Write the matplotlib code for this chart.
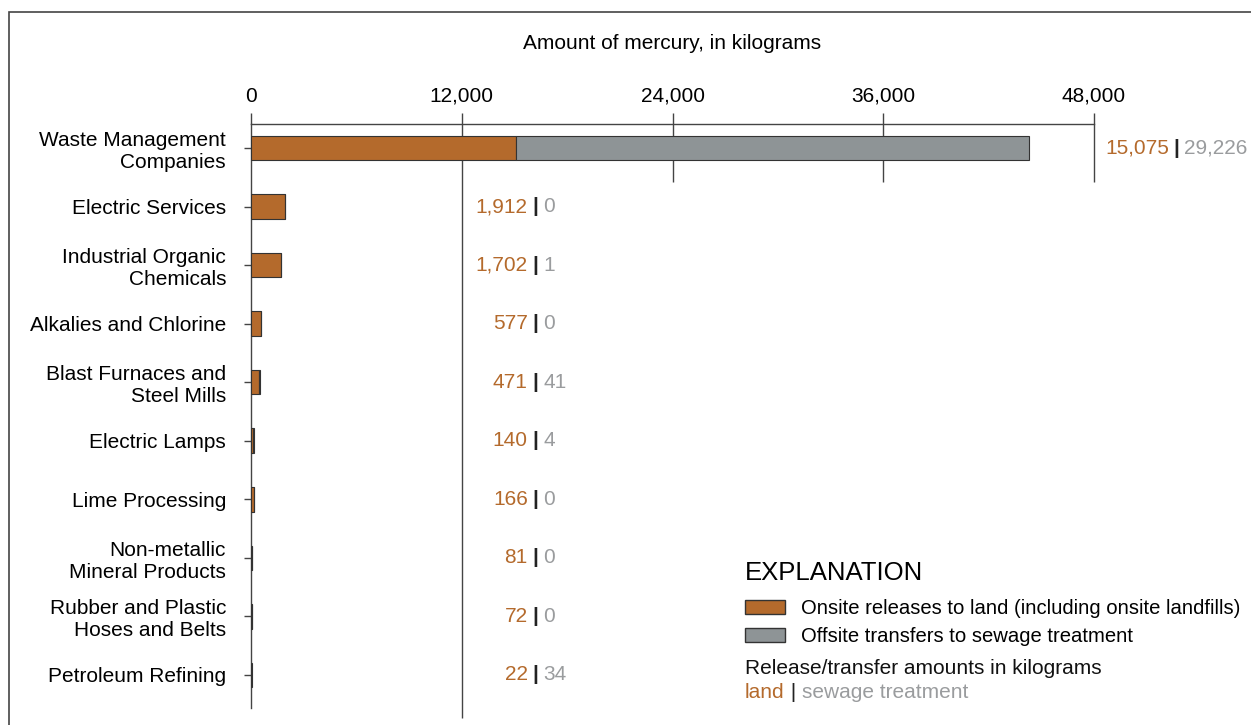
import numpy as np
import matplotlib
matplotlib.use('Agg')
from matplotlib import pyplot as plt
from matplotlib.patches import Patch, Rectangle

# data (kilograms of mercury)
industries = ['Waste Management\nCompanies', 'Electric Services',
              'Industrial Organic\nChemicals', 'Alkalies and Chlorine',
              'Blast Furnaces and\nSteel Mills', 'Electric Lamps',
              'Lime Processing', 'Non-metallic\nMineral Products',
              'Rubber and Plastic\nHoses and Belts', 'Petroleum Refining']
land = [15075, 1912, 1702, 577, 471, 140, 166, 81, 72, 22]
sewage = [29226, 0, 1, 0, 41, 4, 0, 0, 0, 34]
xticks = [0, 12000, 24000, 36000, 48000]

orange = '#B46A2C'
grey_bar = '#8E9496'
grey_txt = '#9A9C9E'
dark = '#333333'

plt.rcParams['font.family'] = ['Liberation Sans', 'DejaVu Sans']

W, H = 1251, 725
fig = plt.figure(figsize=(W / 100, H / 100), dpi=100)
ax = fig.add_axes([251 / W, 1 - 708 / H, (1094 - 251) / W, (708 - 124) / H])

y = np.arange(len(industries))
ax.barh(y, land, height=0.42, color=orange, edgecolor=dark, lw=0.8, zorder=3)
ax.barh(y, sewage, left=land, height=0.42, color=grey_bar, edgecolor=dark, lw=0.8, zorder=3)

ax.set_xlim(0, 48000)
ax.set_ylim(9.565, -0.41)

# axis styling
ax.xaxis.tick_top()
ax.xaxis.set_label_position('top')
ax.set_xticks(xticks, [f'{v:,}' for v in xticks])
ax.set_yticks(y, industries, ha='right', ma='right')
ax.tick_params(axis='x', direction='out', length=8, width=1, pad=5,
               labelsize=15, color='#444')
ax.tick_params(axis='y', direction='out', length=5, width=1, pad=13,
               labelsize=15, color='#444')
ax.set_xlabel('Amount of mercury, in kilograms', fontsize=15, labelpad=27)
for s in ['right', 'bottom']:
    ax.spines[s].set_visible(False)
for s in ['top', 'left']:
    ax.spines[s].set_color('#444')
    ax.spines[s].set_linewidth(1)

# gridline stubs under the first bar, long line at 12,000
ax.vlines(xticks[2:], -0.41, 0.58, color='#444', lw=1, zorder=1, clip_on=False)
ax.vlines(xticks[1], -0.41, 9.74, color='#444', lw=1, zorder=1, clip_on=False)


def pair_label(x, yy, a, b):
    # "land | sewage" centred on the pipe
    kw = dict(xy=(x, yy), textcoords='offset points', va='center',
              fontsize=15, annotation_clip=False)
    ax.annotate('|', xytext=(0, 0), ha='center', color='#222',
                fontweight='bold', **kw)
    ax.annotate(f'{a:,}', xytext=(-5.5, 0), ha='right', color=orange, **kw)
    ax.annotate(f'{b:,}', xytext=(5.5, 0), ha='left', color=grey_txt, **kw)


for i in range(len(industries)):
    px = 52700 if i == 0 else 16200
    pair_label(px, y[i], land[i], sewage[i])

# explanation block
handles = [Patch(fc=orange, ec=dark, lw=1), Patch(fc=grey_bar, ec=dark, lw=1)]
leg = fig.legend(handles, ['Onsite releases to land (including onsite landfills)',
                           'Offsite transfers to sewage treatment'],
                 loc='upper left', bbox_to_anchor=(745 / W, 1 - 561 / H),
                 frameon=False, title='EXPLANATION', title_fontsize=18.5,
                 fontsize=14.6, alignment='left', borderpad=0, borderaxespad=0,
                 handlelength=1.95, handleheight=0.7, handletextpad=0.8,
                 labelspacing=0.47)
leg._legend_box.sep = 10
fig.text(745 / W, 1 - 668 / H, 'Release/transfer amounts in kilograms',
         va='center', fontsize=15, color='#111')
t1 = fig.text(745 / W, 1 - 693 / H, 'land', va='center', fontsize=15, color=orange)
t2 = ax.annotate(' | ', xy=(1, 0), xycoords=t1, va='bottom', fontsize=15,
                 color='#222', annotation_clip=False)
ax.annotate('sewage treatment', xy=(1, 0), xycoords=t2, va='bottom',
            fontsize=15, color=grey_txt, annotation_clip=False)

# outer frame (cut by the image edge on the right and bottom)
fig.add_artist(Rectangle((9 / W, -0.05), 1.1, 1 - 12 / H + 0.05,
                         transform=fig.transFigure, fill=False,
                         ec='#444', lw=1.2))

fig.savefig('out.png', dpi=100)
